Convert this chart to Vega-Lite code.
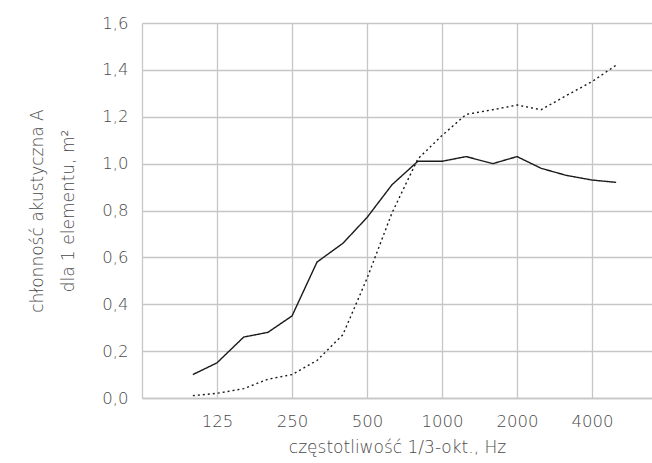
{
  "$schema": "https://vega.github.io/schema/vega-lite/v6.json",
  "width": 510,
  "height": 375,
  "autosize": {"type": "none"},
  "padding": {"left": 142, "top": 23, "right": 0, "bottom": 65},
  "background": "white",
  "config": {
    "view": {"stroke": null},
    "font": "DejaVu Sans",
    "axis": {
      "labelFont": "DejaVu Sans",
      "titleFont": "DejaVu Sans",
      "labelFontWeight": 200,
      "titleFontWeight": 200,
      "labelColor": "#4a4a4a",
      "titleColor": "#4a4a4a",
      "labelFontSize": 16.5,
      "titleFontSize": 17,
      "gridColor": "#c6c6c6",
      "gridWidth": 1.3,
      "gridOpacity": 1,
      "domainColor": "#c6c6c6",
      "domainWidth": 1.3,
      "ticks": false
    }
  },
  "data": {
    "values": [
      {"f": 100, "s": "a", "v": 0.10}, {"f": 125, "s": "a", "v": 0.15}, {"f": 160, "s": "a", "v": 0.26},
      {"f": 200, "s": "a", "v": 0.28}, {"f": 250, "s": "a", "v": 0.35}, {"f": 315, "s": "a", "v": 0.58},
      {"f": 400, "s": "a", "v": 0.66}, {"f": 500, "s": "a", "v": 0.77}, {"f": 630, "s": "a", "v": 0.91},
      {"f": 800, "s": "a", "v": 1.01}, {"f": 1000, "s": "a", "v": 1.01}, {"f": 1250, "s": "a", "v": 1.03},
      {"f": 1600, "s": "a", "v": 1.00}, {"f": 2000, "s": "a", "v": 1.03}, {"f": 2500, "s": "a", "v": 0.98},
      {"f": 3150, "s": "a", "v": 0.95}, {"f": 4000, "s": "a", "v": 0.93}, {"f": 5000, "s": "a", "v": 0.92},
      {"f": 100, "s": "b", "v": 0.01}, {"f": 125, "s": "b", "v": 0.02}, {"f": 160, "s": "b", "v": 0.04},
      {"f": 200, "s": "b", "v": 0.08}, {"f": 250, "s": "b", "v": 0.10}, {"f": 315, "s": "b", "v": 0.16},
      {"f": 400, "s": "b", "v": 0.27}, {"f": 500, "s": "b", "v": 0.51}, {"f": 630, "s": "b", "v": 0.79},
      {"f": 800, "s": "b", "v": 1.02}, {"f": 1000, "s": "b", "v": 1.12}, {"f": 1250, "s": "b", "v": 1.21},
      {"f": 1600, "s": "b", "v": 1.23}, {"f": 2000, "s": "b", "v": 1.25}, {"f": 2500, "s": "b", "v": 1.23},
      {"f": 3150, "s": "b", "v": 1.29}, {"f": 4000, "s": "b", "v": 1.35}, {"f": 5000, "s": "b", "v": 1.42}
    ]
  },
  "mark": {"type": "line", "color": "#1a1a1a", "strokeWidth": 1.4, "clip": true},
  "encoding": {
    "x": {
      "field": "f",
      "type": "quantitative",
      "scale": {"type": "log", "base": 2, "domain": [62.5, 6964], "nice": false, "zero": false},
      "axis": {
        "title": "częstotliwość 1/3-okt., Hz",
        "values": [125, 250, 500, 1000, 2000, 4000],
        "format": "d",
        "labelPadding": 15,
        "titlePadding": 10,
        "labelFlush": false
      }
    },
    "y": {
      "field": "v",
      "type": "quantitative",
      "scale": {"domain": [0, 1.6], "nice": false},
      "axis": {
        "title": ["chłonność akustyczna A", "dla 1 elementu, m²"],
        "values": [0, 0.2, 0.4, 0.6, 0.8, 1.0, 1.2, 1.4, 1.6],
        "labelExpr": "replace(format(datum.value, '.1f'), '.', ',')",
        "labelPadding": 14,
        "titlePadding": 24,
        "titleLineHeight": 31
      }
    },
    "strokeDash": {
      "field": "s",
      "type": "nominal",
      "scale": {"domain": ["a", "b"], "range": [[1, 0], [2, 3]]},
      "legend": null
    }
  }
}
